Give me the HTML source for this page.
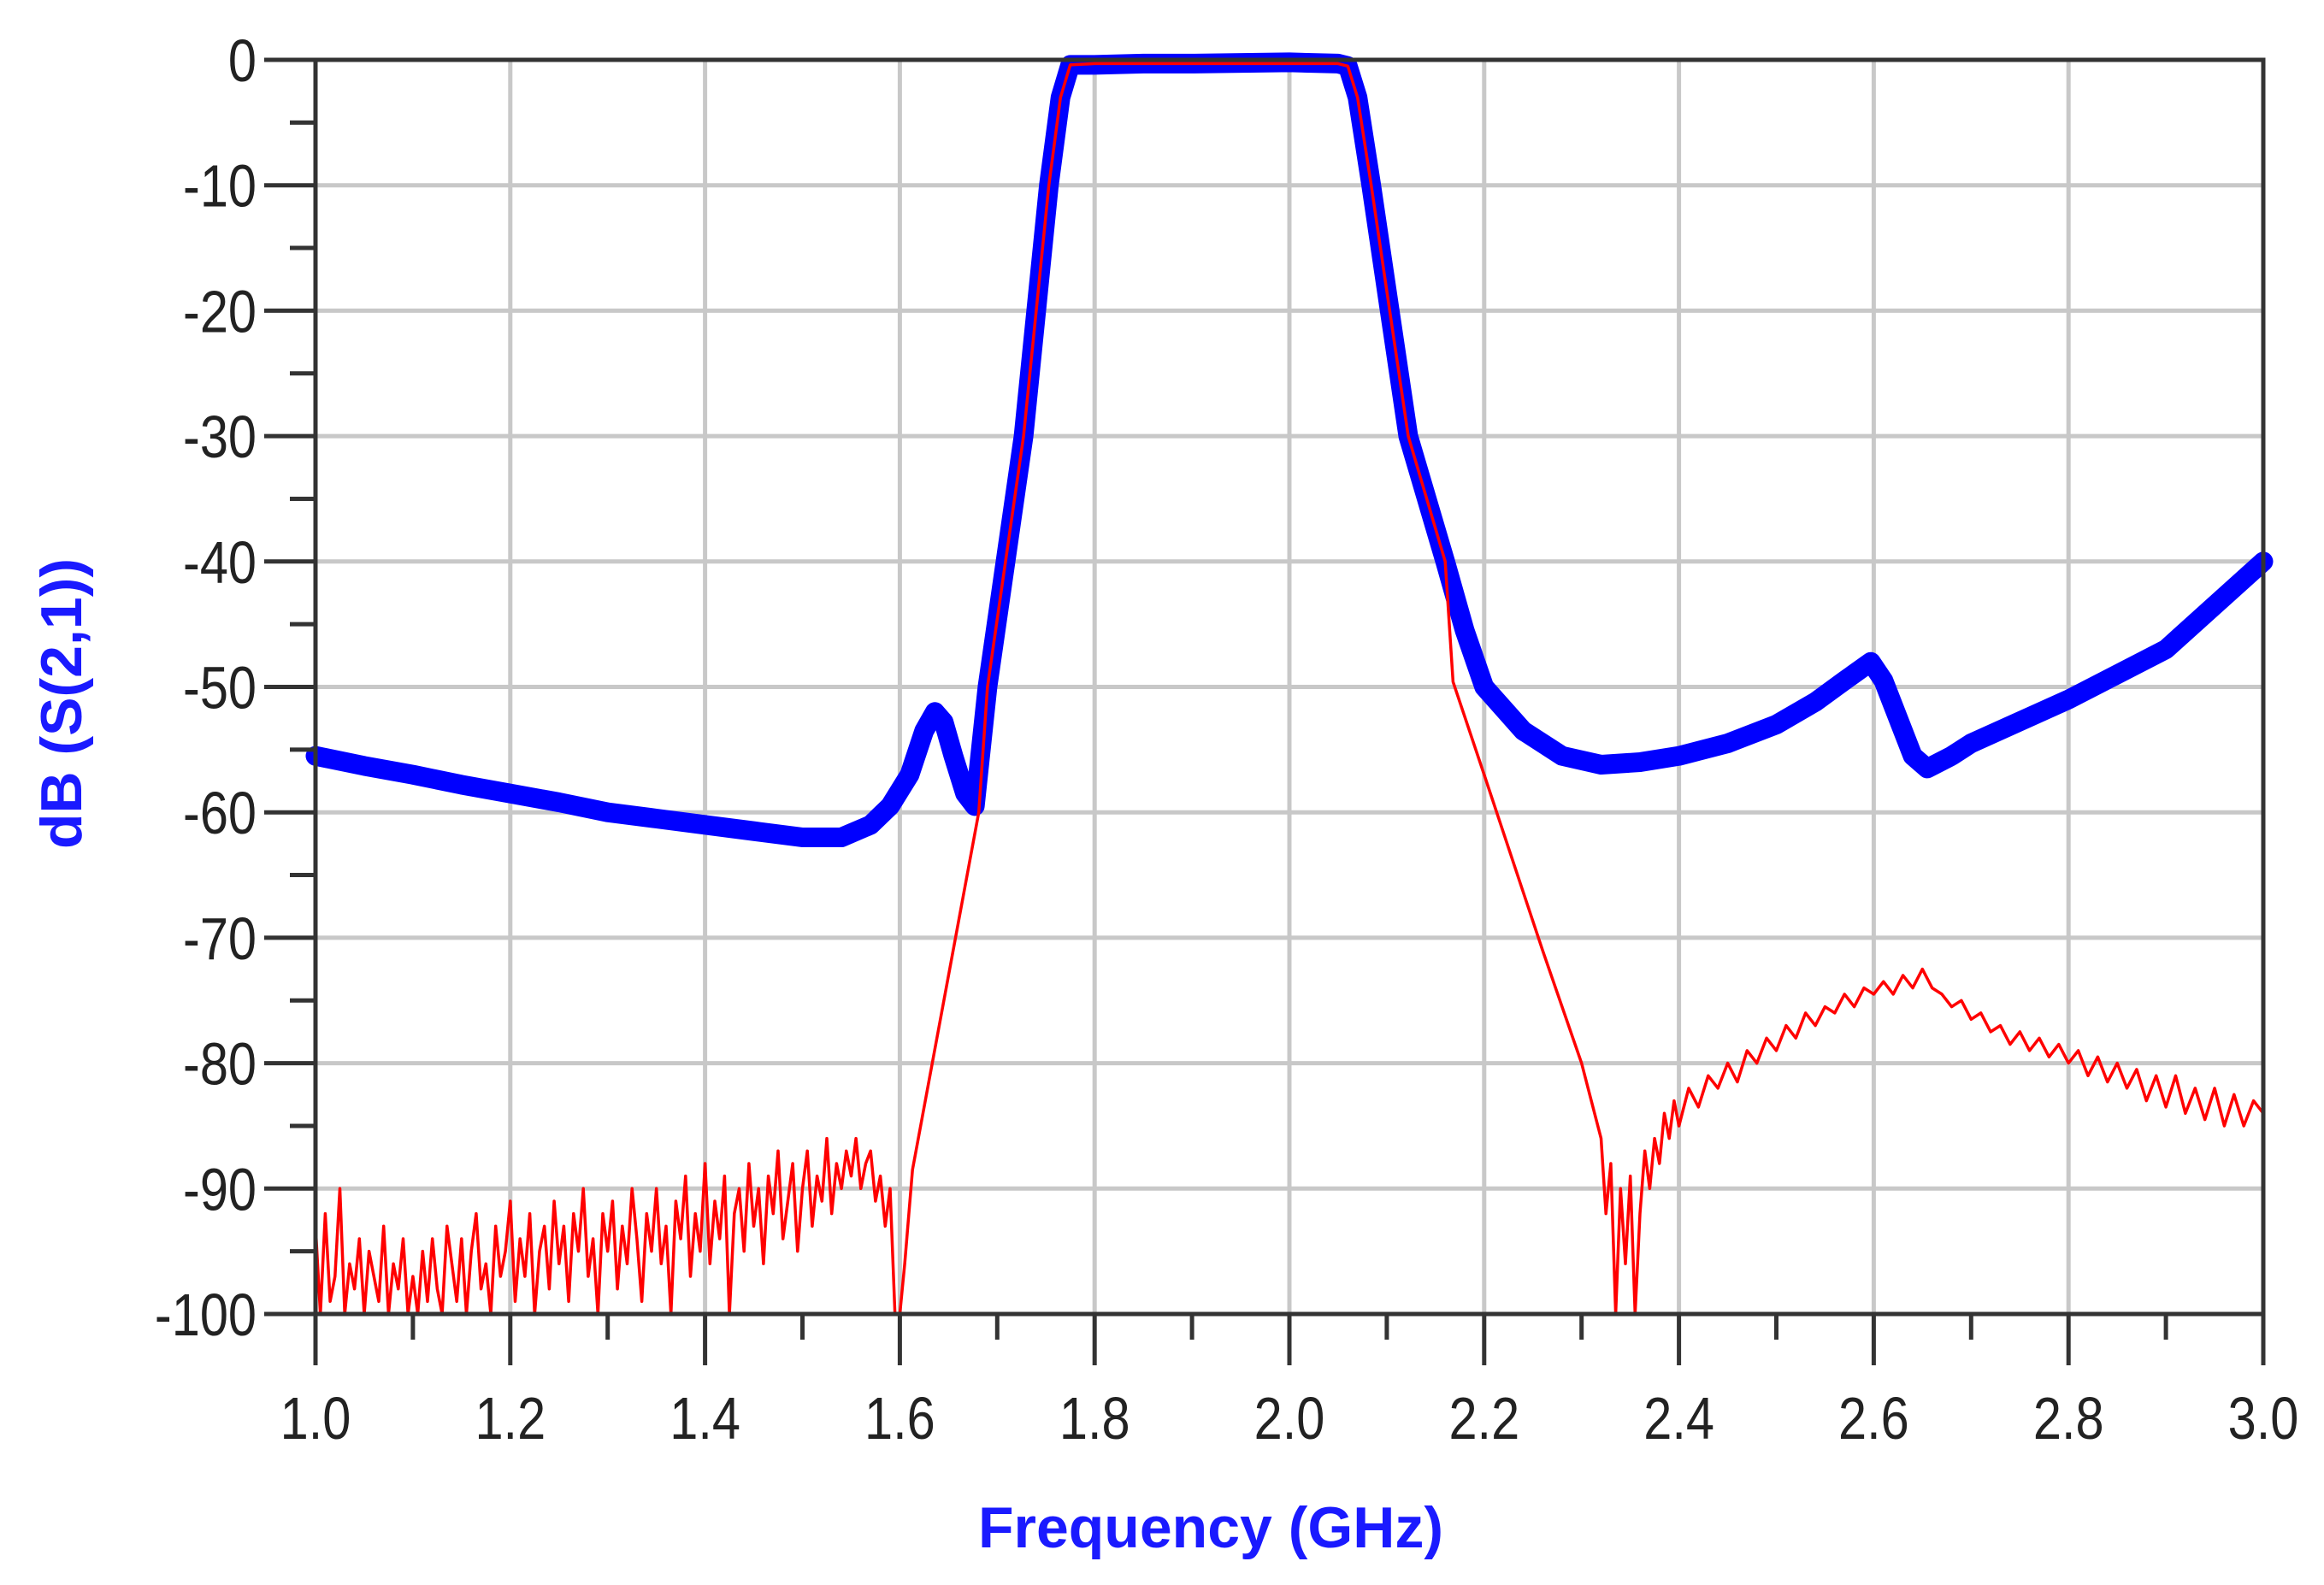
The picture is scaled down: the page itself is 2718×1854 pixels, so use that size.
<!DOCTYPE html>
<html><head><meta charset="utf-8"><style>
html,body{margin:0;padding:0;background:#fff;}
svg{display:block;}
</style></head><body>
<svg id="chart" width="2718" height="1854" viewBox="0 0 2718 1854" xmlns="http://www.w3.org/2000/svg">
<rect x="0" y="0" width="2718" height="1854" fill="#fff"/>
<g id="grid"></g>
<g id="series"></g>
<g id="axes"></g>
<text x="1416" y="1810" text-anchor="middle" font-family="Liberation Sans, sans-serif" font-weight="bold" font-size="68" fill="#1a1aff">Frequency (GHz)</text>
<text transform="translate(95,823) rotate(-90)" text-anchor="middle" font-family="Liberation Sans, sans-serif" font-weight="bold" font-size="68" fill="#1a1aff">dB (S(2,1))</text>
</svg>
<script>
const xTicks = [1.0,1.2,1.4,1.6,1.8,2.0,2.2,2.4,2.6,2.8,3.0];
const xTickLabels = ["1.0","1.2","1.4","1.6","1.8","2.0","2.2","2.4","2.6","2.8","3.0"];
const yTicks = [0,-10,-20,-30,-40,-50,-60,-70,-80,-90,-100];
const yTickLabels = ["0","-10","-20","-30","-40","-50","-60","-70","-80","-90","-100"];
const simFreq = [1.0,1.05,1.1,1.15,1.2,1.25,1.3,1.35,1.4,1.45,1.5,1.54,1.57,1.59,1.61,1.625,1.636,1.645,1.655,1.667,1.677,1.69,1.727,1.753,1.765,1.775,1.8,1.85,1.9,2.0,2.05,2.06,2.07,2.084,2.103,2.122,2.16,2.18,2.2,2.24,2.28,2.32,2.36,2.4,2.45,2.5,2.54,2.57,2.597,2.61,2.625,2.64,2.655,2.68,2.7,2.8,2.9,3.0];
const simDb = [-55.5,-56.3,-57,-57.8,-58.5,-59.2,-60,-60.5,-61,-61.5,-62,-62,-61,-59.5,-57,-53.5,-52,-52.8,-55.5,-58.5,-59.5,-50,-30,-10,-3,-0.4,-0.4,-0.3,-0.3,-0.2,-0.3,-0.5,-3,-10,-20,-30,-40,-45.5,-50,-53.5,-55.5,-56.2,-56,-55.5,-54.5,-53,-51.2,-49.5,-48,-49.5,-52.5,-55.5,-56.5,-55.5,-54.5,-51,-47,-40];
const measFreq = [1.000,1.005,1.010,1.015,1.020,1.025,1.030,1.035,1.040,1.045,1.050,1.055,1.060,1.065,1.070,1.075,1.080,1.085,1.090,1.095,1.100,1.105,1.110,1.115,1.120,1.125,1.130,1.135,1.140,1.145,1.150,1.155,1.160,1.165,1.170,1.175,1.180,1.185,1.190,1.195,1.200,1.205,1.210,1.215,1.220,1.225,1.230,1.235,1.240,1.245,1.250,1.255,1.260,1.265,1.270,1.275,1.280,1.285,1.290,1.295,1.300,1.305,1.310,1.315,1.320,1.325,1.330,1.335,1.340,1.345,1.350,1.355,1.360,1.365,1.370,1.375,1.380,1.385,1.390,1.395,1.400,1.405,1.410,1.415,1.420,1.425,1.430,1.435,1.440,1.445,1.450,1.455,1.460,1.465,1.470,1.475,1.480,1.485,1.490,1.495,1.500,1.505,1.510,1.515,1.520,1.525,1.530,1.535,1.540,1.545,1.550,1.555,1.560,1.565,1.570,1.575,1.580,1.585,1.590,1.595,1.600,1.605,1.613,1.681,1.69,1.727,1.753,1.765,1.775,1.8,2.05,2.06,2.07,2.084,2.103,2.122,2.16,2.168,2.2,2.26,2.3,2.32,2.325,2.33,2.335,2.34,2.345,2.35,2.355,2.36,2.365,2.37,2.375,2.38,2.385,2.39,2.395,2.40,2.41,2.42,2.43,2.44,2.45,2.46,2.47,2.48,2.49,2.50,2.51,2.52,2.53,2.54,2.55,2.56,2.57,2.58,2.59,2.60,2.61,2.62,2.63,2.64,2.65,2.66,2.67,2.68,2.69,2.70,2.71,2.72,2.73,2.74,2.75,2.76,2.77,2.78,2.79,2.80,2.81,2.82,2.83,2.84,2.85,2.86,2.87,2.88,2.89,2.90,2.91,2.92,2.93,2.94,2.95,2.96,2.97,2.98,2.99,3.00];
const measDb = [-93,-100,-92,-99,-97,-90,-100,-96,-98,-94,
-100,-95,-97,-99,-93,-100,-96,-98,-94,-100,
-97,-100,-95,-99,-94,-98,-100,-93,-96,-99,
-94,-100,-95,-92,-98,-96,-100,-93,-97,-95,
-91,-99,-94,-97,-92,-100,-95,-93,-98,-91,
-96,-93,-99,-92,-95,-90,-97,-94,-100,-92,
-95,-91,-98,-93,-96,-90,-94,-99,-92,-95,
-90,-96,-93,-100,-91,-94,-89,-97,-92,-95,
-88,-96,-91,-94,-89,-100,-92,-90,-95,-88,
-93,-90,-96,-89,-92,-87,-94,-91,-88,-95,
-90,-87,-93,-89,-91,-86,-92,-88,-90,-87,
-89,-86,-90,-88,-87,-91,-89,-93,-90,-100,
-100,-96,-88.5,-60,-50,-30,-10,-3,-0.4,-0.3,-0.3,-0.5,-3,-10,-20,-30,-40,-49.6,-57,-71,-80,-86,
-92,-88,-100,-90,-96,-89,-100,-92,-87,-90,-86,-88,-84,-86,-83,-85,
-82,-83.5,-81,-82,-80,-81.5,-79,-80,-78,-79,-77,-78,-76,-77,-75.5,-76,-74.5,-75.5,-74,-74.5,
-73.5,-74.5,-73,-74,-72.5,-74,-74.5,-75.5,-75,-76.5,-76,-77.5,-77,-78.5,-77.5,-79,-78,-79.5,-78.5,-80,
-79,-81,-79.5,-81.5,-80,-82,-80.5,-83,-81,-83.5,-81,-84,-82,-84.5,-82,-85,-82.5,-85,-83,-84];

const NS='http://www.w3.org/2000/svg';
const L=369,R=2647,T=70,B=1537;
function xs(f){return L+(f-1.0)/(3.0-1.0)*(R-L);}
function ys(d){return T+(0-d)/100*(B-T);}
function mk(tag,attrs,parent){const e=document.createElementNS(NS,tag);for(const k in attrs)e.setAttribute(k,attrs[k]);parent.appendChild(e);return e;}
const grid=document.getElementById('grid'),axes=document.getElementById('axes'),series=document.getElementById('series');
xTicks.forEach((t,i)=>{
  const g=mk('line',{x1:xs(t),x2:xs(t),y1:T,y2:B,stroke:'#c8c8c8','stroke-width':5},grid);
  
  
  const tk=mk('line',{x1:xs(t),x2:xs(t),y1:B,y2:B+60,stroke:'#333','stroke-width':5},axes);
  
  
  const tx=mk('text',{transform:`translate(${xs(t)},1683) scale(0.85,1)`,'text-anchor':'middle','font-family':'Liberation Sans, sans-serif','font-size':70,fill:'#222'},axes);
  tx.textContent=xTickLabels[i];
  
  
  if(i<xTicks.length-1){
    const m=mk('line',{x1:xs(t+0.1),x2:xs(t+0.1),y1:B,y2:B+30,stroke:'#333','stroke-width':5},axes);
    
    
  }
});
yTicks.forEach((t,i)=>{
  const g=mk('line',{x1:L,x2:R,y1:ys(t),y2:ys(t),stroke:'#c8c8c8','stroke-width':5},grid);
  
  
  const tk=mk('line',{x1:L-60,x2:L,y1:ys(t),y2:ys(t),stroke:'#333','stroke-width':5},axes);
  
  
  const tx=mk('text',{transform:`translate(300,${ys(t)+25}) scale(0.85,1)`,'text-anchor':'end','font-family':'Liberation Sans, sans-serif','font-size':70,fill:'#222'},axes);
  tx.textContent=yTickLabels[i];
  
  
  if(i<yTicks.length-1){
    const m=mk('line',{x1:L-30,x2:L,y1:ys(t-5),y2:ys(t-5),stroke:'#333','stroke-width':5},axes);
    
    
  }
});
const frame=mk('rect',{x:L,y:T,width:R-L,height:B-T,fill:'none',stroke:'#333','stroke-width':5},axes);


function pts(fa,da){return fa.map((f,i)=>xs(f).toFixed(1)+','+ys(Math.max(-100,da[i])).toFixed(1)).join(' ');}
const sim=mk('polyline',{points:pts(simFreq,simDb),fill:'none',stroke:'#0000ff','stroke-width':23,'stroke-linejoin':'round','stroke-linecap':'round'},series);


const meas=mk('polyline',{points:pts(measFreq,measDb),fill:'none',stroke:'#ff0000','stroke-width':3.5,'stroke-linejoin':'round'},series);


</script>
</body></html>
